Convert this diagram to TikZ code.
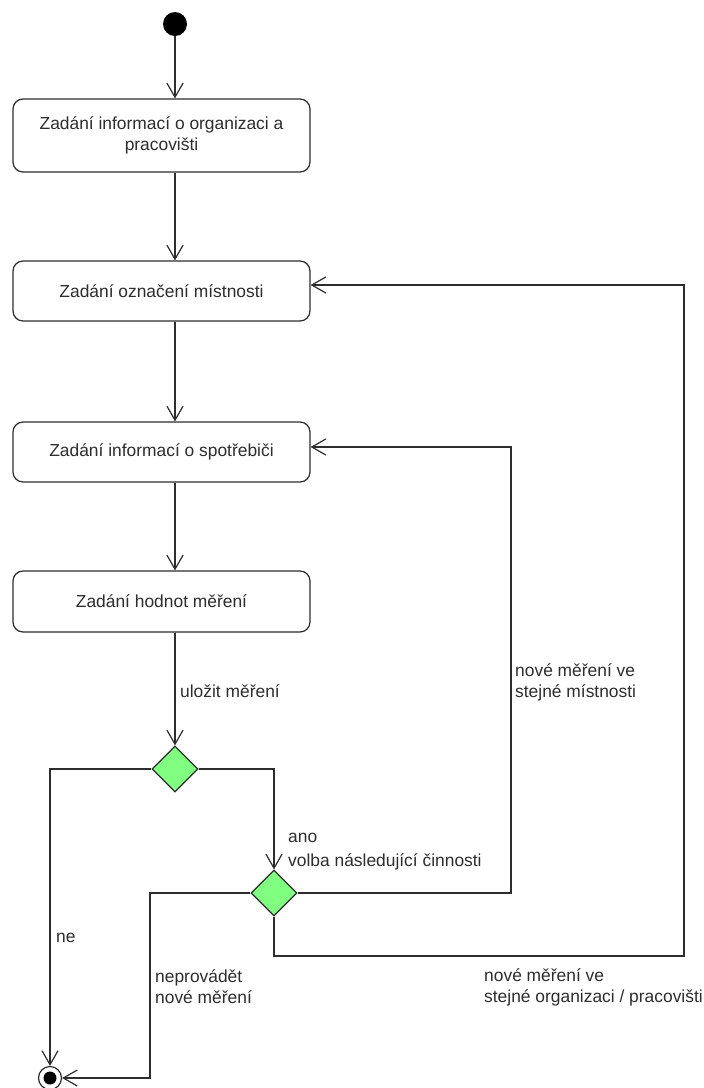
\documentclass[tikz,border=0pt]{standalone}
\usepackage{fontspec}
\setmainfont{Liberation Sans}
\usetikzlibrary{arrows.meta,shapes.geometric}
\definecolor{ink}{RGB}{45,45,45}
\definecolor{decision}{RGB}{128,255,128}
\begin{document}
\begin{tikzpicture}[x=1pt,y=-1pt,
  every node/.style={font=\fontsize{17.4}{21}\selectfont, text=ink},
  action/.style={draw=ink, line width=1.2pt, rounded corners=10pt,
    minimum width=297pt, inner sep=0pt, align=center, fill=white},
  choice/.style={draw=ink, line width=1.2pt, diamond, fill=decision,
    minimum width=46pt, minimum height=46pt, inner sep=0pt},
  flow/.style={draw=ink, line width=1.2pt,
    -{Straight Barb[length=14pt,width=16pt]}},
  edgelabel/.style={anchor=west, align=left, inner sep=0pt}
]
\useasboundingbox (0,0) rectangle (704,1088);

% initial and final states
\node[circle, fill=black, minimum size=24pt, inner sep=0pt] (start) at (175,24) {};
\node[circle, draw=ink, line width=1.2pt, fill=white, minimum size=23pt, inner sep=0pt,
  path picture={\fill[black] (path picture bounding box.center) circle (6.5pt);}]
  (finish) at (50,1078) {};

% actions
\node[action, minimum height=73pt] (b1) at (161.5,135.5) {Zadání informací o organizaci a\\pracovišti};
\node[action, minimum height=60pt] (b2) at (161.5,291) {Zadání označení místnosti};
\node[action, minimum height=60pt] (b3) at (161.5,452) {Zadání informací o spotřebiči};
\node[action, minimum height=61pt] (b4) at (161.5,601.5) {Zadání hodnot měření};

% decisions
\node[choice] (d1) at (175,769) {};
\node[choice] (d2) at (274,893) {};

% bend points of the loops
\coordinate (k1) at (511,447);
\coordinate (k2) at (684,956);
\coordinate (k3) at (150,893);

% main sequence
\draw[flow] (start.south) -- (start.south |- b1.north);
\draw[flow] (start.south |- b1.south) -- (start.south |- b2.north);
\draw[flow] (start.south |- b2.south) -- (start.south |- b3.north);
\draw[flow] (start.south |- b3.south) -- (start.south |- b4.north);
\draw[flow] (start.south |- b4.south) -- (d1.north);

% branches
\draw[flow] (d1.west) -| (finish.north);
\draw[flow] (d1.east) -| (d2.north);
\draw[flow] (d2.east) -| (k1) -- (k1 -| b3.east);
\draw[flow] (d2.south) |- (k2) -- (k2 |- 0,285) -- (b2.east |- 0,285);
\draw[flow] (d2.west) -- (k3) |- (finish.east);

% labels
\node[edgelabel] (lsave) at (180,691) {uložit měření};
\node[edgelabel] (lyes) at (288,838) {ano};
\node[edgelabel] (lnext) at (288,862) {volba následující činnosti};
\node[edgelabel] (lno) at (56,938) {ne};
\node[edgelabel] (lstop) at (155,986.5) {neprovádět\\nové měření};
\node[edgelabel] (lroom) at (515,682.5) {nové měření ve\\stejné místnosti};
\node[edgelabel] (lorg) at (484,987.5) {nové měření ve\\stejné organizaci / pracovišti};
\end{tikzpicture}
\end{document}
